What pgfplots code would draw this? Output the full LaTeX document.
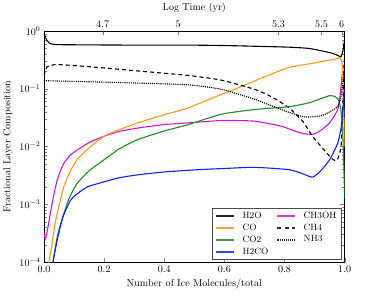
\documentclass[border=0pt]{standalone}
\usepackage{pgfplots}
\pgfplotsset{compat=1.18}
\definecolor{cOrange}{RGB}{255,150,20}
\definecolor{cGreen}{RGB}{30,140,30}
\definecolor{cBlue}{RGB}{20,30,255}
\definecolor{cMag}{RGB}{210,20,210}
\begin{document}
\begin{tikzpicture}
\begin{axis}[
  name=main,
  scale only axis, width=298pt, height=229pt,
  xmin=0, xmax=1, ymin=1e-4, ymax=1, ymode=log,
  xtick={0,0.2,0.4,0.6,0.8,1.0},
  xticklabel style={/pgf/number format/fixed,/pgf/number format/fixed zerofill,/pgf/number format/precision=1},
  xtick pos=bottom,
  xlabel={Number of Ice Molecules/total},
  ylabel={Fractional Layer Composition},
  tick align=inside,
  legend columns=2,
  legend style={at={(0.99,0.01)}, anchor=south east, draw=black!70, font=\small, column sep=6pt, row sep=0pt},
  legend cell align=left,
  legend image code/.code={\draw[#1, line width=2pt, opacity=0.85] (0cm,0cm) -- (0.6cm,0cm);},
  every axis plot/.append style={line width=1.1pt, smooth, tension=0.35},
]
\addplot[black] coordinates {(0,0.92)(0.005,0.78)(0.01,0.68)(0.02,0.61)(0.03,0.59)(0.05,0.58)(0.15,0.575)(0.3,0.57)(0.48,0.57)(0.6,0.56)(0.7,0.545)(0.815,0.525)(0.88,0.5)(0.926,0.45)(0.96,0.41)(0.977,0.377)(0.988,0.36)(0.994,0.45)(1.0,0.72)};
\addlegendentry{H2O}
\addplot[cMag] coordinates {(0,3.2e-4)(0.004,2.5e-4)(0.01,3.2e-4)(0.021,6.9e-4)(0.032,1.41e-3)(0.044,2.63e-3)(0.055,3.8e-3)(0.066,5.1e-3)(0.085,6.9e-3)(0.11,8.7e-3)(0.15,1.17e-2)(0.2,1.51e-2)(0.25,1.82e-2)(0.312,2.09e-2)(0.4,2.4e-2)(0.48,2.57e-2)(0.59,2.82e-2)(0.70,2.75e-2)(0.79,2.24e-2)(0.85,1.74e-2)(0.893,1.62e-2)(0.92,1.9e-2)(0.95,2.57e-2)(0.977,4.37e-2)(0.985,7.9e-2)(0.991,0.158)(0.995,0.25)(1.0,0.24)};
\addlegendentry{CH3OH}
\addplot[cOrange] coordinates {(0.012,5e-5)(0.017,1e-4)(0.027,2.06e-4)(0.035,4e-4)(0.044,6.9e-4)(0.066,2.02e-3)(0.085,3.5e-3)(0.11,5.9e-3)(0.15,9.5e-3)(0.2,1.51e-2)(0.25,1.95e-2)(0.312,2.57e-2)(0.4,3.55e-2)(0.48,4.68e-2)(0.56,6.9e-2)(0.648,0.105)(0.73,0.158)(0.815,0.234)(0.9,0.28)(0.972,0.33)(0.985,0.34)(0.992,0.25)(0.996,0.063)(1.0,0.01)};
\addlegendentry{CO}
\addplot[black, dashed, dash pattern=on 4pt off 3pt] coordinates {(0,0.17)(0.005,0.21)(0.01,0.24)(0.021,0.25)(0.044,0.263)(0.155,0.24)(0.31,0.204)(0.48,0.17)(0.59,0.141)(0.70,0.098)(0.76,0.071)(0.815,4.68e-2)(0.86,2.75e-2)(0.893,1.51e-2)(0.93,8.9e-3)(0.96,6e-3)(0.975,5.8e-3)(0.988,1e-2)(0.994,5e-2)(1.0,0.4)};
\addlegendentry{CH4}
\addplot[cGreen] coordinates {(0.025,6e-5)(0.03,1e-4)(0.044,2.7e-4)(0.055,4.5e-4)(0.066,6.9e-4)(0.085,1.32e-3)(0.11,2.29e-3)(0.15,3.8e-3)(0.2,5.9e-3)(0.25,9.1e-3)(0.312,1.32e-2)(0.4,1.86e-2)(0.48,2.4e-2)(0.59,3.63e-2)(0.70,4.37e-2)(0.815,4.9e-2)(0.883,5.75e-2)(0.95,7.6e-2)(0.97,7.2e-2)(0.98,6.3e-2)(0.987,4.5e-2)(0.993,2e-2)(0.997,5e-3)(1.0,1.26e-3)};
\addlegendentry{CO2}
\addplot[black, densely dotted] coordinates {(0,0.138)(0.155,0.132)(0.3,0.126)(0.48,0.117)(0.59,0.098)(0.70,0.066)(0.76,0.05)(0.815,3.9e-2)(0.87,3.24e-2)(0.926,3.47e-2)(0.972,4.68e-2)(0.985,6.3e-2)(0.994,0.126)(1.0,0.25)};
\addlegendentry{NH3}
\addplot[cBlue] coordinates {(0.025,6e-5)(0.03,1e-4)(0.044,2.4e-4)(0.055,4.2e-4)(0.066,6.6e-4)(0.088,1.17e-3)(0.11,1.51e-3)(0.144,2e-3)(0.2,2.45e-3)(0.25,2.88e-3)(0.312,3.24e-3)(0.4,3.63e-3)(0.513,3.98e-3)(0.6,4.17e-3)(0.70,4.37e-3)(0.815,3.98e-3)(0.86,3.39e-3)(0.893,2.95e-3)(0.92,3.8e-3)(0.95,5.9e-3)(0.977,1.15e-2)(0.989,2.24e-2)(0.995,5e-2)(1.0,0.1)};
\addlegendentry{H2CO}
\end{axis}
\begin{axis}[
  scale only axis, width=298pt, height=229pt,
  xmin=0, xmax=1, ymin=0, ymax=1,
  axis x line*=top, axis y line=none,
  tick align=inside,
  xtick={0.195,0.446,0.78,0.923,0.99},
  xticklabels={4.7,5,5.3,5.5,6},
  xlabel={Log Time (yr)},
]
\end{axis}
\path ([xshift=37pt]main.south east) ++(0,-5pt);
\end{tikzpicture}
\end{document}
